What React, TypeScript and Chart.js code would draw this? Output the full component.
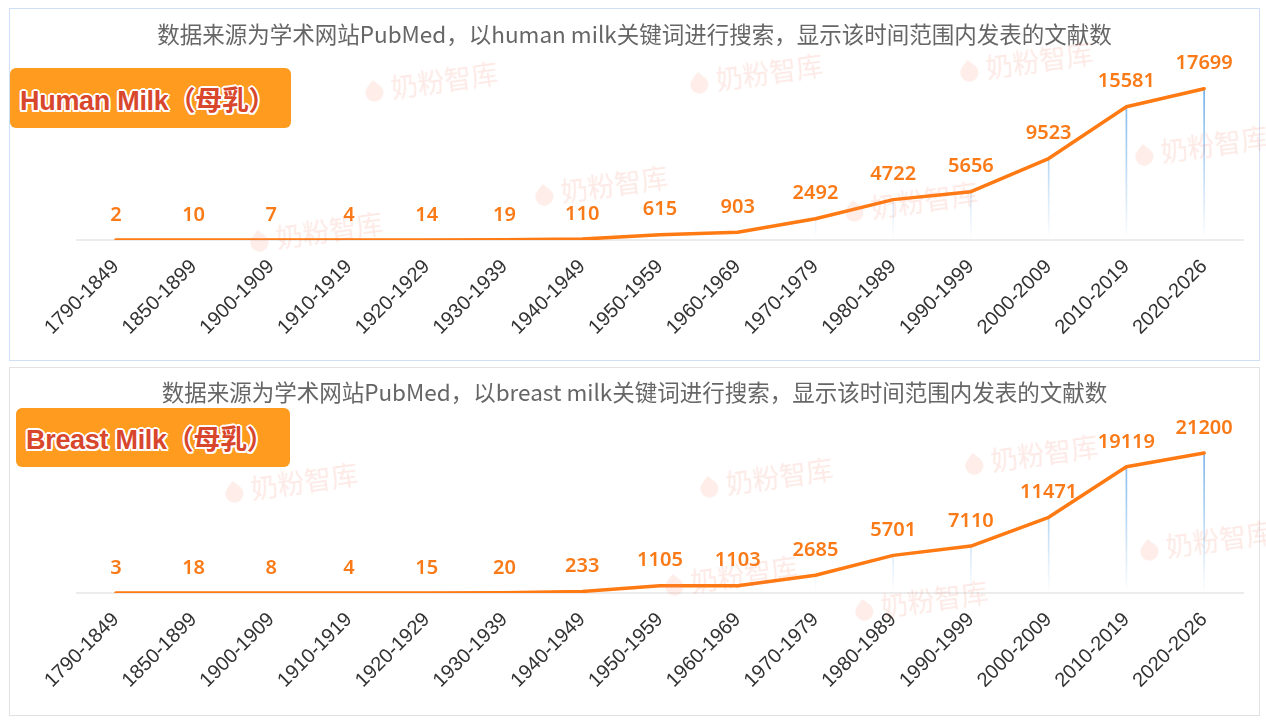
import React, { useEffect, useRef } from "react";
import { Chart, registerables } from "chart.js";

Chart.register(...registerables);

const categories = [
  "1790-1849", "1850-1899", "1900-1909", "1910-1919", "1920-1929",
  "1930-1939", "1940-1949", "1950-1959", "1960-1969", "1970-1979",
  "1980-1989", "1990-1999", "2000-2009", "2010-2019", "2020-2026",
];
const humanMilkCounts = [2, 10, 7, 4, 14, 19, 110, 615, 903, 2492, 4722, 5656, 9523, 15581, 17699];
const breastMilkCounts = [3, 18, 8, 4, 15, 20, 233, 1105, 1103, 2685, 5701, 7110, 11471, 19119, 21200];
const humanMilkTitle = "数据来源为学术网站PubMed，以human milk关键词进行搜索，显示该时间范围内发表的文献数";
const breastMilkTitle = "数据来源为学术网站PubMed，以breast milk关键词进行搜索，显示该时间范围内发表的文献数";
const humanMilkLabel = "Human Milk（母乳）";
const breastMilkLabel = "Breast Milk（母乳）";
const humanMilkAxisMax = 20000;
const breastMilkAxisMax = 25000;
const watermarkText = "奶粉智库";

const LINE_COLOR = "#FF7A12";
const LABEL_COLOR = "#FA7A18";

type PanelProps = {
  top: number;
  height: number;
  borderColor: string;
  title: string;
  titleTop: number;
  label: string;
  labelBox: { left: number; top: number; width: number; height: number };
  values: number[];
  yMax: number;
  axisHeight: number;
  marks: [number, number][];
};

const valueLabels = {
  id: "valueLabels",
  afterDatasetsDraw(chart: any) {
    const meta = chart.getDatasetMeta(0);
    const data = chart.data.datasets[0].data;
    const ctx = chart.ctx;
    ctx.save();
    ctx.font = '600 20px "Noto Sans", "Liberation Sans", Arial, sans-serif';
    ctx.fillStyle = LABEL_COLOR;
    ctx.textAlign = "center";
    ctx.textBaseline = "middle";
    meta.data.forEach((el: any, i: number) => {
      ctx.fillText(String(data[i]), el.x, el.y - 25);
    });
    ctx.restore();
  },
};

function Watermark({ x, y }: { x: number; y: number }) {
  return (
    <div
      style={{
        position: "absolute",
        left: x,
        top: y - 18,
        display: "flex",
        alignItems: "center",
        transform: "rotate(-8deg)",
        transformOrigin: "left center",
        pointerEvents: "none",
        opacity: 0.15,
      }}
    >
      <div
        style={{
          width: 18,
          height: 18,
          background: "#F3876A",
          borderRadius: "0 50% 50% 50%",
          transform: "rotate(45deg)",
          marginRight: 8,
          marginTop: 6,
        }}
      />
      <span
        style={{
          fontFamily: '"Noto Sans CJK SC", sans-serif',
          fontSize: 27,
          color: "#EE6F50",
          whiteSpace: "nowrap",
        }}
      >
        {watermarkText}
      </span>
    </div>
  );
}

function Panel(p: PanelProps) {
  const ref = useRef<HTMLCanvasElement>(null);
  const W = 1249;
  const H = p.height - 2;

  useEffect(() => {
    const canvas = ref.current!;
    const chart = new Chart(canvas, {
      type: "line",
      data: {
        labels: categories,
        datasets: [
          {
            type: "line",
            data: p.values,
            borderColor: LINE_COLOR,
            borderWidth: 3.5,
            pointRadius: 0,
            tension: 0,
            fill: false,
            order: 0,
            borderJoinStyle: "round",
            borderCapStyle: "round",
          } as any,
          {
            type: "bar",
            data: p.values,
            barThickness: 1,
            grouped: false,
            order: 1,
            backgroundColor: (c: any) => {
              const area = c.chart.chartArea;
              if (!area) return "rgba(0,0,0,0)";
              const g = c.chart.ctx.createLinearGradient(0, area.top, 0, area.bottom);
              g.addColorStop(0, "rgba(88,162,228,0.95)");
              g.addColorStop(1, "rgba(88,162,228,0)");
              return g;
            },
          } as any,
        ],
      },
      options: {
        responsive: false,
        animation: false,
        layout: { padding: { left: 67, right: 16, top: 60, bottom: 0 } },
        plugins: { legend: { display: false }, tooltip: { enabled: false } },
        scales: {
          x: {
            offset: true,
            grid: { display: false, drawTicks: false },
            border: { display: true, color: "#ececec", width: 2 },
            ticks: {
              autoSkip: false,
              minRotation: 45,
              maxRotation: 45,
              color: "#333333",
              padding: 15,
              font: { family: '"Liberation Sans", Arial, sans-serif', size: 20 },
            },
            afterFit: (s: any) => {
              s.height = p.axisHeight;
            },
          },
          y: { display: false, min: 0, max: p.yMax },
        },
      },
      plugins: [valueLabels],
    });
    return () => chart.destroy();
  }, []);

  return (
    <div
      style={{
        position: "absolute",
        left: 9,
        top: p.top,
        width: 1251,
        height: p.height,
        boxSizing: "border-box",
        border: `1px solid ${p.borderColor}`,
        background: "#fff",
      }}
    >
      <canvas
        ref={ref}
        width={W}
        height={H}
        style={{ position: "absolute", left: 0, top: 0, width: W, height: H }}
      />
      <div
        style={{
          position: "absolute",
          left: 0,
          width: W,
          top: p.titleTop,
          textAlign: "center",
          fontFamily: '"Noto Sans CJK SC", sans-serif',
          fontSize: 22.5,
          lineHeight: "28px",
          color: "#666666",
          whiteSpace: "nowrap",
        }}
      >
        {p.title}
      </div>
      {p.marks.map(([x, y], i) => (
        <Watermark key={i} x={x} y={y} />
      ))}
      <div
        style={{
          position: "absolute",
          left: p.labelBox.left,
          top: p.labelBox.top,
          width: p.labelBox.width,
          height: p.labelBox.height,
          background: "#FF9B1E",
          borderRadius: 6,
          display: "flex",
          alignItems: "center",
          paddingLeft: 10,
          boxSizing: "border-box",
        }}
      >
        <span
          style={{
            fontFamily: '"Liberation Sans", "Noto Sans CJK SC", sans-serif',
            fontWeight: 700,
            fontSize: 27,
            color: "#D8462C",
            letterSpacing: -0.3,
            whiteSpace: "nowrap",
            textShadow:
              "2px 0 0 #fff, -2px 0 0 #fff, 0 2px 0 #fff, 0 -2px 0 #fff, 1.5px 1.5px 0 #fff, -1.5px -1.5px 0 #fff, 1.5px -1.5px 0 #fff, -1.5px 1.5px 0 #fff",
          }}
        >
          {p.label}
        </span>
      </div>
    </div>
  );
}

export default function App() {
  return (
    <div style={{ position: "absolute", left: 0, top: 0, width: 1266, height: 727, background: "#fff" }}>
      <Panel
        top={8}
        height={353}
        borderColor="#cfe0f6"
        title={humanMilkTitle}
        titleTop={10}
        label={humanMilkLabel}
        labelBox={{ left: 0, top: 59, width: 281, height: 60 }}
        values={humanMilkCounts}
        yMax={humanMilkAxisMax}
        axisHeight={120}
        marks={[[355, 80], [680, 72], [950, 60], [1125, 144], [525, 184], [835, 200], [240, 230]]}
      />
      <Panel
        top={367}
        height={349}
        borderColor="#e2e2e2"
        title={breastMilkTitle}
        titleTop={9}
        label={breastMilkLabel}
        labelBox={{ left: 6, top: 40, width: 274, height: 59 }}
        values={breastMilkCounts}
        yMax={breastMilkAxisMax}
        axisHeight={122}
        marks={[[215, 122], [690, 117], [955, 94], [1130, 180], [655, 215], [845, 240]]}
      />
    </div>
  );
}
